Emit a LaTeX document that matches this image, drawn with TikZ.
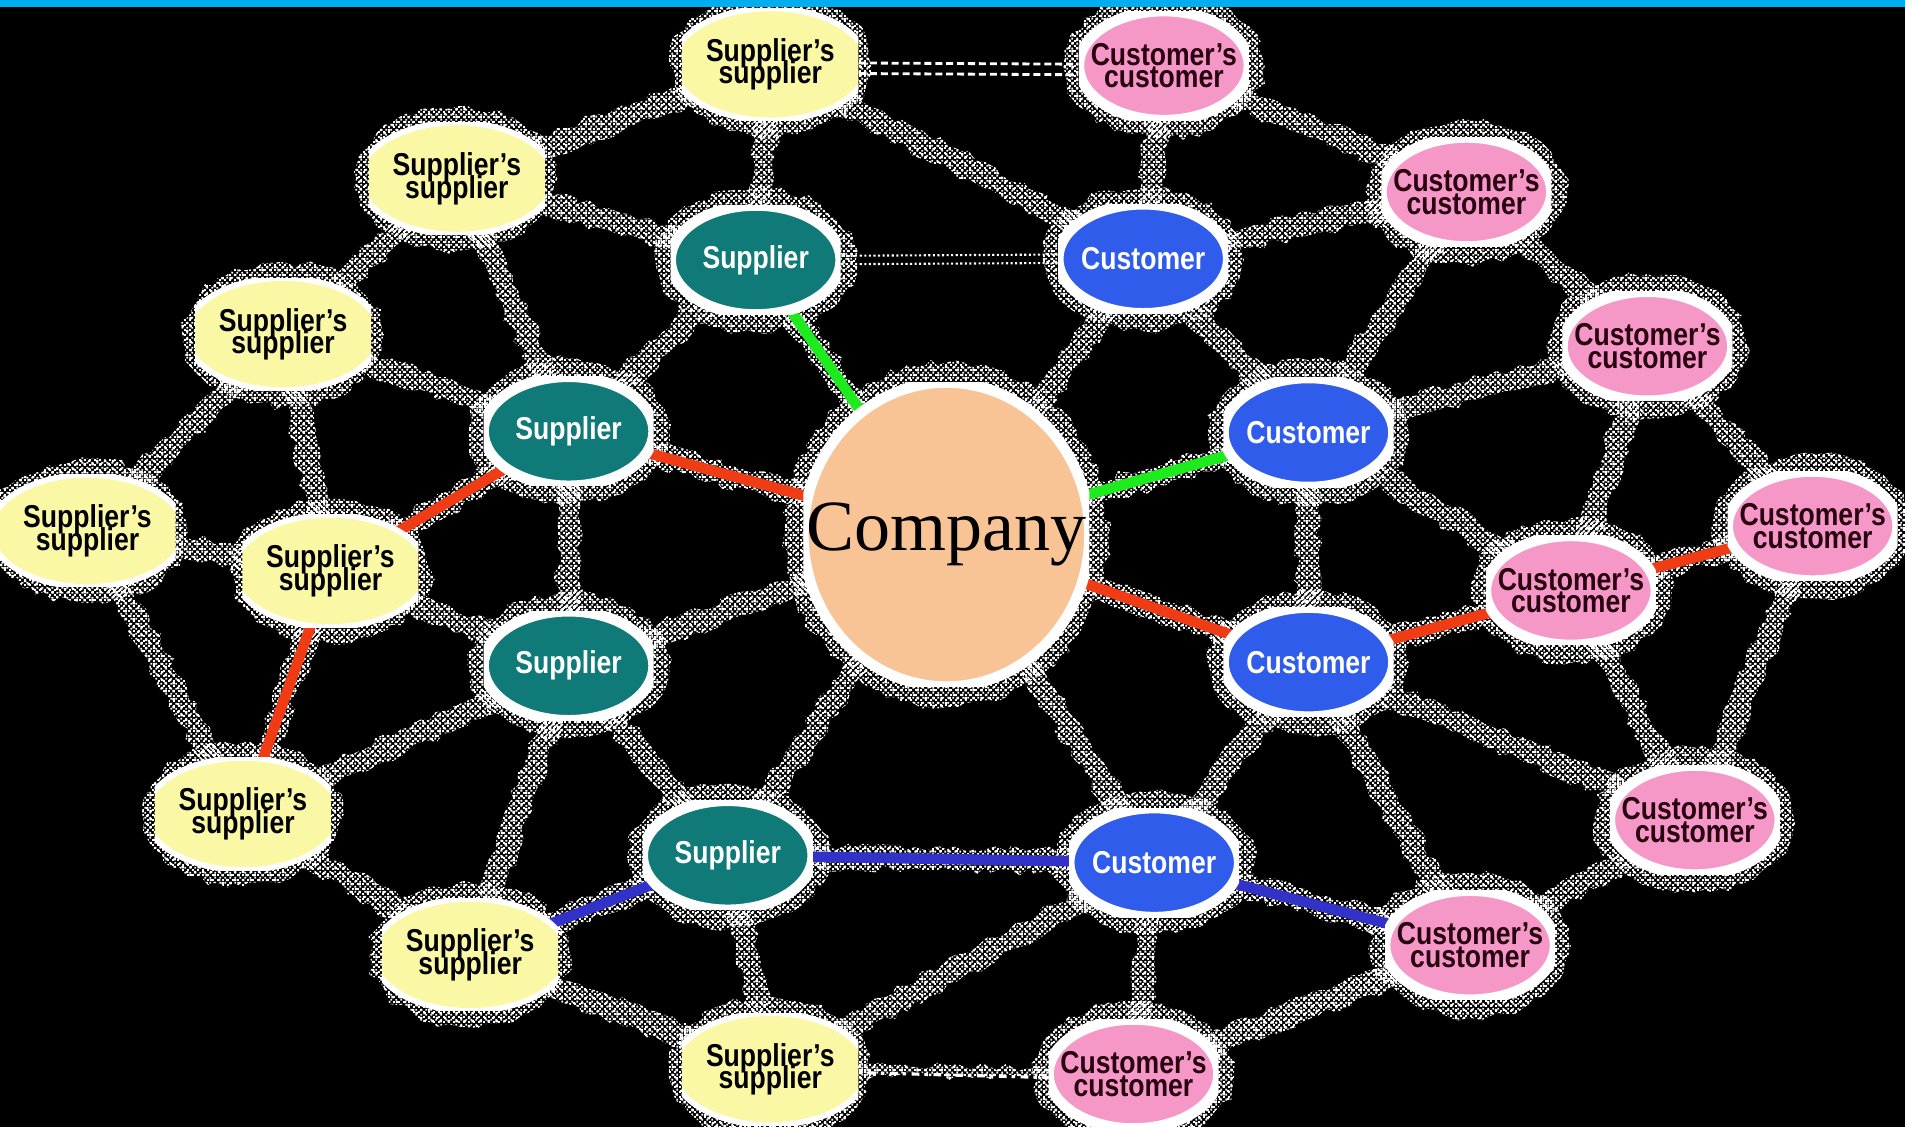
\documentclass[tikz,border=0pt]{standalone}
\usepackage{fontspec}
\setmainfont{Liberation Sans}
\newfontfamily\labelfont{Liberation Sans}[FakeStretch=0.84]
\newfontfamily\titlefont{Liberation Serif}
\usetikzlibrary{shapes.geometric,calc,patterns,decorations.pathmorphing}

\definecolor{topbar}{RGB}{0,174,239}
\definecolor{supfill}{RGB}{16,122,120}
\definecolor{cusfill}{RGB}{48,92,236}
\definecolor{ssfill}{RGB}{250,247,165}
\definecolor{ccfill}{RGB}{245,152,200}
\definecolor{cctext}{RGB}{40,0,15}
\definecolor{compfill}{RGB}{248,196,150}
\definecolor{linkgreen}{RGB}{30,235,30}
\definecolor{linkred}{RGB}{240,60,20}
\definecolor{linkblue}{RGB}{50,50,200}

% two dot grids of different pitch; laid over each other they give a dithered speckle
\pgfdeclarepatternformonly{ditherA}{\pgfpointorigin}{\pgfpoint{1.5pt}{1.5pt}}{\pgfpoint{1.5pt}{1.5pt}}{%
  \pgfpathrectangle{\pgfpoint{0pt}{0pt}}{\pgfpoint{0.62pt}{0.62pt}}%
  \pgfpathrectangle{\pgfpoint{0.75pt}{0.75pt}}{\pgfpoint{0.62pt}{0.62pt}}%
  \pgfusepath{fill}}
\pgfdeclarepatternformonly{ditherB}{\pgfpointorigin}{\pgfpoint{2.3pt}{2.3pt}}{\pgfpoint{2.3pt}{2.3pt}}{%
  \pgfpathrectangle{\pgfpoint{0.3pt}{1.2pt}}{\pgfpoint{0.75pt}{0.75pt}}%
  \pgfpathrectangle{\pgfpoint{1.4pt}{0.2pt}}{\pgfpoint{0.75pt}{0.75pt}}%
  \pgfusepath{fill}}

\pgfdeclarelayer{noise}
\pgfdeclarelayer{links}
\pgfsetlayers{noise,links,main}

% speckled band with ragged edges between two nodes (optional half width)
\newcommand\noisylink[3][3.2pt]{%
  \fill[speckle,ragged] ($(#2)!#1!90:(#3)$) -- ($(#3)!#1!-90:(#2)$)
    -- ($(#3)!#1!90:(#2)$) -- ($(#2)!#1!-90:(#3)$) -- cycle;}

\begin{document}
\pgfmathsetseed{42}
\begin{tikzpicture}[x=0.01215cm,y=-0.01215cm,
  speckle/.style={preaction={pattern=ditherB,pattern color=white},
                  pattern=ditherA,pattern color=white},
  ragged/.style={decorate,decoration={random steps,segment length=2.4pt,amplitude=1.1pt}},
  lbl/.style={align=center,inner sep=0pt,
    font={\labelfont\bfseries\fontsize{9pt}{6.4pt}\selectfont\lineskiplimit=-30pt}},
  % oval drawn inside a rectangular node box, white rim
  ovalnode/.style n args={2}{rectangle,lbl,minimum width=1.70cm,minimum height=1.09cm,
    text=#2,
    path picture={\fill[#1,draw=white,line width=3pt]
      (path picture bounding box.center) ellipse [x radius=0.85cm,y radius=0.545cm];}},
  supnode/.style={ovalnode={supfill}{white}},
  cusnode/.style={ovalnode={cusfill}{white}},
  ccnode/.style={ovalnode={ccfill}{cctext}},
  % wider oval trimmed by the box: flat left and right sides
  ssnode/.style={rectangle,lbl,minimum width=1.76cm,minimum height=1.12cm,text=black,
    path picture={\fill[ssfill,draw=white,line width=1.6pt]
      (path picture bounding box.center) ellipse [x radius=0.97cm,y radius=0.56cm];}},
  compnode/.style={rectangle,inner sep=0pt,minimum width=2.86cm,minimum height=3.04cm,
    font=\titlefont\fontsize{20.5pt}{24pt}\selectfont,
    path picture={\fill[compfill,draw=white,line width=3pt]
      (path picture bounding box.center) ellipse [x radius=1.43cm,y radius=1.52cm];}},
  greenlink/.style={draw=linkgreen,line width=3pt},
  redlink/.style={draw=linkred,line width=3pt},
  bluelink/.style={draw=linkblue,line width=3pt},
  dashwhite/.style={draw=white,line width=0.8pt,dash pattern=on 2pt off 1.1pt},
  dotwhite/.style={draw=white,line width=0.6pt,dash pattern=on 0.6pt off 0.7pt},
]
\useasboundingbox (0,0) rectangle (1568,928);

% centre
\node[compnode] (co) at (779,440) {Company};

% suppliers and customers
\node[supnode] (s1) at (622,214) {Supplier};
\node[supnode] (s2) at (468,355) {Supplier};
\node[supnode] (s3) at (468,548) {Supplier};
\node[supnode] (s4) at (599,704) {Supplier};
\node[cusnode] (c1) at (941,213) {Customer};
\node[cusnode] (c2) at (1077,356) {Customer};
\node[cusnode] (c3) at (1077,545) {Customer};
\node[cusnode] (c4) at (950,710) {Customer};

% suppliers' suppliers
\node[ssnode] (ss1) at (634,53)  {Supplier’s\\supplier};
\node[ssnode] (ss2) at (376,147) {Supplier’s\\supplier};
\node[ssnode] (ss3) at (233,275) {Supplier’s\\supplier};
\node[ssnode] (ss4) at (72,437)  {Supplier’s\\supplier};
\node[ssnode] (ss5) at (272,470) {Supplier’s\\supplier};
\node[ssnode] (ss6) at (200,670) {Supplier’s\\supplier};
\node[ssnode] (ss7) at (387,786) {Supplier’s\\supplier};
\node[ssnode] (ss8) at (634,880) {Supplier’s\\supplier};

% customers' customers
\node[ccnode] (cc1) at (958,54)   {Customer’s\\customer};
\node[ccnode] (cc2) at (1207,158) {Customer’s\\customer};
\node[ccnode] (cc3) at (1356,285) {Customer’s\\customer};
\node[ccnode] (cc4) at (1492,433) {Customer’s\\customer};
\node[ccnode] (cc5) at (1293,486) {Customer’s\\customer};
\node[ccnode] (cc6) at (1395,675) {Customer’s\\customer};
\node[ccnode] (cc7) at (1210,778) {Customer’s\\customer};
\node[ccnode] (cc8) at (933,884)  {Customer’s\\customer};

\begin{pgfonlayer}{noise}
  \fill[black] (0,0) rectangle (1568,928);
  % speckled halos round every node
  \foreach \n in {s1,s2,s3,s4,c1,c2,c3,c4,ss1,ss2,ss3,ss4,ss5,ss6,ss7,ss8,
                  cc1,cc2,cc3,cc4,cc5,cc6,cc7,cc8}
    \fill[speckle,ragged] (\n.center) ellipse [x radius=1.0cm,y radius=0.72cm];
  \fill[speckle,ragged] (co.center) ellipse [x radius=1.62cm,y radius=1.72cm];
  % the web of relations
  \foreach \a/\b in {ss1/s1,ss1/c1,ss2/ss1,ss2/s1,ss2/ss3,ss2/s2,ss3/s2,ss3/ss4,
      ss3/ss5,ss4/ss5,ss4/ss6,ss5/s3,s2/s3,ss6/s3,ss6/ss7,ss7/s3,ss7/ss8,s4/ss8,
      ss8/c4,c4/cc8,cc8/cc7,s3/s4,s3/co,s4/co,co/c4,co/c1,s1/s2,c1/c2,c1/cc1,
      cc1/cc2,c1/cc2,cc2/cc3,cc2/c2,cc3/c2,cc3/cc5,cc3/cc4,c2/c3,c2/cc5,cc4/cc6,
      cc5/cc6,c3/cc6,c3/c4,c3/cc7,cc6/cc7,cc7/cc8,
      s1/co,co/c2,s2/co,s2/ss5,ss5/ss6,co/c3,c3/cc5,cc5/cc4,s4/c4,s4/ss7,c4/cc7}
    \noisylink{\a}{\b};
  \noisylink[1.4pt]{ss8}{cc8};
\end{pgfonlayer}

\begin{pgfonlayer}{links}
  % highlighted chains, centre to centre under the ovals
  \draw[greenlink] (s1.center) -- (co.center);
  \draw[greenlink] (co.center) -- (c2.center);
  \draw[redlink] (ss6.center) -- (ss5.center);
  \draw[redlink] (ss5.center) -- (s2.center);
  \draw[redlink] (s2.center) -- (co.center);
  \draw[redlink] (co.center) -- (c3.center);
  \draw[redlink] (c3.center) -- (cc5.center);
  \draw[redlink] (cc5.center) -- (cc4.center);
  \draw[bluelink] (ss7.center) -- (s4.center);
  \draw[bluelink] (s4.center) -- (c4.center);
  \draw[bluelink] (c4.center) -- (cc7.center);
  % straight dashed and dotted pairs
  \draw[dashwhite] ([yshift=0.4pt]ss1.east) -- ([yshift=0.4pt]cc1.west);
  \draw[dashwhite] ([yshift=-2.6pt]ss1.east) -- ([yshift=-2.6pt]cc1.west);
  \draw[dotwhite] ([yshift=1.2pt]s1.east) -- ([yshift=1.2pt]c1.west);
  \draw[dotwhite] ([yshift=-1.2pt]s1.east) -- ([yshift=-1.2pt]c1.west);
  \draw[draw=white,line width=0.9pt,dash pattern=on 1pt off 1.6pt on 2.2pt off 1.4pt]
    ([yshift=-1pt]ss8.east) -- ([yshift=-1pt]cc8.west);
\end{pgfonlayer}

\fill[topbar] (0,0) rectangle (1568,6);
\end{tikzpicture}
\end{document}
